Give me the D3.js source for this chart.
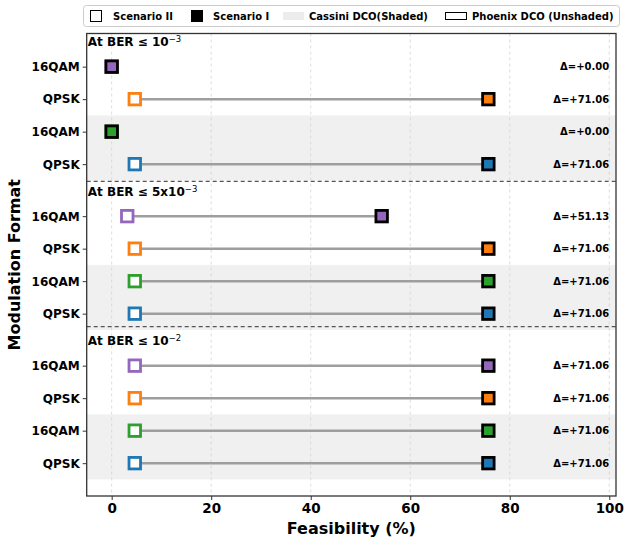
<!DOCTYPE html>
<html>
<head>
<meta charset="utf-8">
<script src="https://cdn.jsdelivr.net/npm/d3@7"></script>
<style>
  body { margin: 0; background: #fff; }
  svg text { font-family: "DejaVu Sans", sans-serif; font-weight: bold; }
</style>
</head>
<body>
<div id="vis"></div>
<script>
var width  = 624;
var height = 540;

// data
var berText     = ["At BER \u2264 10", "At BER \u2264 5x10", "At BER \u2264 10"];
var berExp      = ["\u22123", "\u22123", "\u22122"];
var rowFormats  = ["16QAM", "QPSK", "16QAM", "QPSK"];
var rowShaded   = [false, false, true, true];   // Cassini rows are shaded
var rowColors   = ["#9467bd", "#ff7f0e", "#2ca02c", "#1f77b4"];
var scenarioII  = [[0, 4.64, 0, 4.64], [3.13, 4.64, 4.64, 4.64], [4.64, 4.64, 4.64, 4.64]];
var scenarioI   = [[0, 75.70, 0, 75.70], [54.26, 75.70, 75.70, 75.70], [75.70, 75.70, 75.70, 75.70]];
var xTicks      = [0, 20, 40, 60, 80, 100];
var legendLabels = ["Scenario II", "Scenario I", "Cassini DCO(Shaded)", "Phoenix DCO (Unshaded)"];

// layout
var groupOffset = [0, 4.6, 9.2];
var separators  = [3.53, 8.0];
var axL = 86.7, axR = 616, axT = 33.5, axB = 496;

var x = d3.scaleLinear().domain([-5.02, 101.35]).range([axL, axR]);
var y = d3.scaleLinear().domain([-1.02, 13.21]).range([axT, axB]);

var rows = [];
scenarioII.forEach(function(g, gi) {
  g.forEach(function(v, ri) {
    rows.push({
      pos: groupOffset[gi] + ri,
      fmt: rowFormats[ri],
      shaded: rowShaded[ri],
      color: rowColors[ri],
      s2: v,
      s1: scenarioI[gi][ri]
    });
  });
});

var svg = d3.select("#vis").append("svg")
  .attr("width", width)
  .attr("height", height);

// shaded bands for Cassini rows
svg.append("g").selectAll("rect")
  .data(groupOffset)
  .enter().append("rect")
  .attr("x", axL)
  .attr("width", axR - axL)
  .attr("y", function(d) { return y(d + 1.5); })
  .attr("height", function(d) { return y(d + 3.5) - y(d + 1.5); })
  .attr("fill", "#f0f0f0");

// vertical grid
svg.append("g").selectAll("line")
  .data(xTicks)
  .enter().append("line")
  .attr("x1", function(d) { return x(d); })
  .attr("x2", function(d) { return x(d); })
  .attr("y1", axT).attr("y2", axB)
  .attr("stroke", "#d4d4d4")
  .attr("stroke-width", 0.8)
  .attr("stroke-dasharray", "3,3");

// group separators
svg.append("g").selectAll("line")
  .data(separators)
  .enter().append("line")
  .attr("x1", axL).attr("x2", axR)
  .attr("y1", function(d) { return y(d); })
  .attr("y2", function(d) { return y(d); })
  .attr("stroke", "#555")
  .attr("stroke-width", 1.2)
  .attr("stroke-dasharray", "4,3");

// connecting lines
svg.append("g").selectAll("line")
  .data(rows)
  .enter().append("line")
  .attr("x1", function(d) { return x(d.s2); })
  .attr("x2", function(d) { return x(d.s1); })
  .attr("y1", function(d) { return y(d.pos); })
  .attr("y2", function(d) { return y(d.pos); })
  .attr("stroke", "#9e9e9e")
  .attr("stroke-width", 2.5);

var ms = 11.5;
// scenario II markers (hollow)
svg.append("g").selectAll("rect")
  .data(rows)
  .enter().append("rect")
  .attr("x", function(d) { return x(d.s2) - ms / 2; })
  .attr("y", function(d) { return y(d.pos) - ms / 2; })
  .attr("width", ms).attr("height", ms)
  .attr("fill", "#fff")
  .attr("stroke", function(d) { return d.color; })
  .attr("stroke-width", 2.8);

// scenario I markers (filled)
svg.append("g").selectAll("rect")
  .data(rows)
  .enter().append("rect")
  .attr("x", function(d) { return x(d.s1) - ms / 2; })
  .attr("y", function(d) { return y(d.pos) - ms / 2; })
  .attr("width", ms).attr("height", ms)
  .attr("fill", function(d) { return d.color; })
  .attr("stroke", "#000")
  .attr("stroke-width", 2.8);

// delta labels
svg.append("g").selectAll("text")
  .data(rows)
  .enter().append("text")
  .attr("x", x(100))
  .attr("y", function(d) { return y(d.pos); })
  .attr("dy", "0.35em")
  .attr("text-anchor", "end")
  .style("font-size", "10px")
  .text(function(d) { return "\u0394=+" + (d.s1 - d.s2).toFixed(2); });

// group titles
var titles = svg.append("g").selectAll("text")
  .data(groupOffset)
  .enter().append("text")
  .attr("x", x(-4.8))
  .attr("y", function(d) { return y(d - 0.76); })
  .attr("dy", "0.35em")
  .style("font-size", "12px");
titles.append("tspan").text(function(d, i) { return berText[i]; });
titles.append("tspan")
  .attr("dy", "-0.45em")
  .style("font-size", "8.5px")
  .style("font-weight", "normal")
  .text(function(d, i) { return berExp[i]; });

// axes
var yAxis = d3.axisLeft(y)
  .tickValues(rows.map(function(d) { return d.pos; }))
  .tickFormat(function(d, i) { return rows[i].fmt; })
  .tickSize(4).tickPadding(3);
var gy = svg.append("g").attr("transform", "translate(" + axL + ",0)").call(yAxis);
gy.select(".domain").remove();
gy.selectAll("text").style("font-size", "12px").style("font-family", "DejaVu Sans").style("font-weight", "bold");
gy.selectAll("line").attr("stroke", "#333");

var xAxis = d3.axisBottom(x).tickValues(xTicks).tickSize(4).tickPadding(3);
var gx = svg.append("g").attr("transform", "translate(0," + axB + ")").call(xAxis);
gx.select(".domain").remove();
gx.selectAll("text").style("font-size", "13.5px").style("font-family", "DejaVu Sans").style("font-weight", "bold");
gx.selectAll("line").attr("stroke", "#333");

// frame
svg.append("rect")
  .attr("x", axL).attr("y", axT)
  .attr("width", axR - axL).attr("height", axB - axT)
  .attr("fill", "none")
  .attr("stroke", "#333")
  .attr("stroke-width", 1.3);

// axis titles
svg.append("text")
  .attr("x", (axL + axR) / 2)
  .attr("y", 534)
  .attr("text-anchor", "middle")
  .style("font-size", "16px")
  .text("Feasibility (%)");

svg.append("text")
  .attr("transform", "translate(20," + ((axT + axB) / 2) + ")rotate(-90)")
  .attr("text-anchor", "middle")
  .style("font-size", "16px")
  .text("Modulation Format");

// legend
var lg = svg.append("g");
lg.append("rect")
  .attr("x", 83.5).attr("y", 5.5)
  .attr("width", 536).attr("height", 21)
  .attr("rx", 3)
  .attr("fill", "#fff")
  .attr("stroke", "#ccc");
lg.append("rect").attr("x", 90.5).attr("y", 10.5).attr("width", 11).attr("height", 11)
  .attr("fill", "#fff").attr("stroke", "#000").attr("stroke-width", 1);
lg.append("rect").attr("x", 191).attr("y", 10).attr("width", 12).attr("height", 12)
  .attr("fill", "#000");
lg.append("rect").attr("x", 283).attr("y", 12).attr("width", 21).attr("height", 8)
  .attr("fill", "#ececec");
lg.append("rect").attr("x", 445.5).attr("y", 12.5).attr("width", 21).attr("height", 7)
  .attr("fill", "#fff").attr("stroke", "#000").attr("stroke-width", 1);
var legendX = [113, 213, 309, 472];
lg.selectAll("text.lbl")
  .data(legendLabels)
  .enter().append("text")
  .attr("class", "lbl")
  .attr("x", function(d, i) { return legendX[i]; })
  .attr("y", 16)
  .attr("dy", "0.35em")
  .style("font-size", "10px")
  .text(function(d) { return d; });
</script>
</body>
</html>
